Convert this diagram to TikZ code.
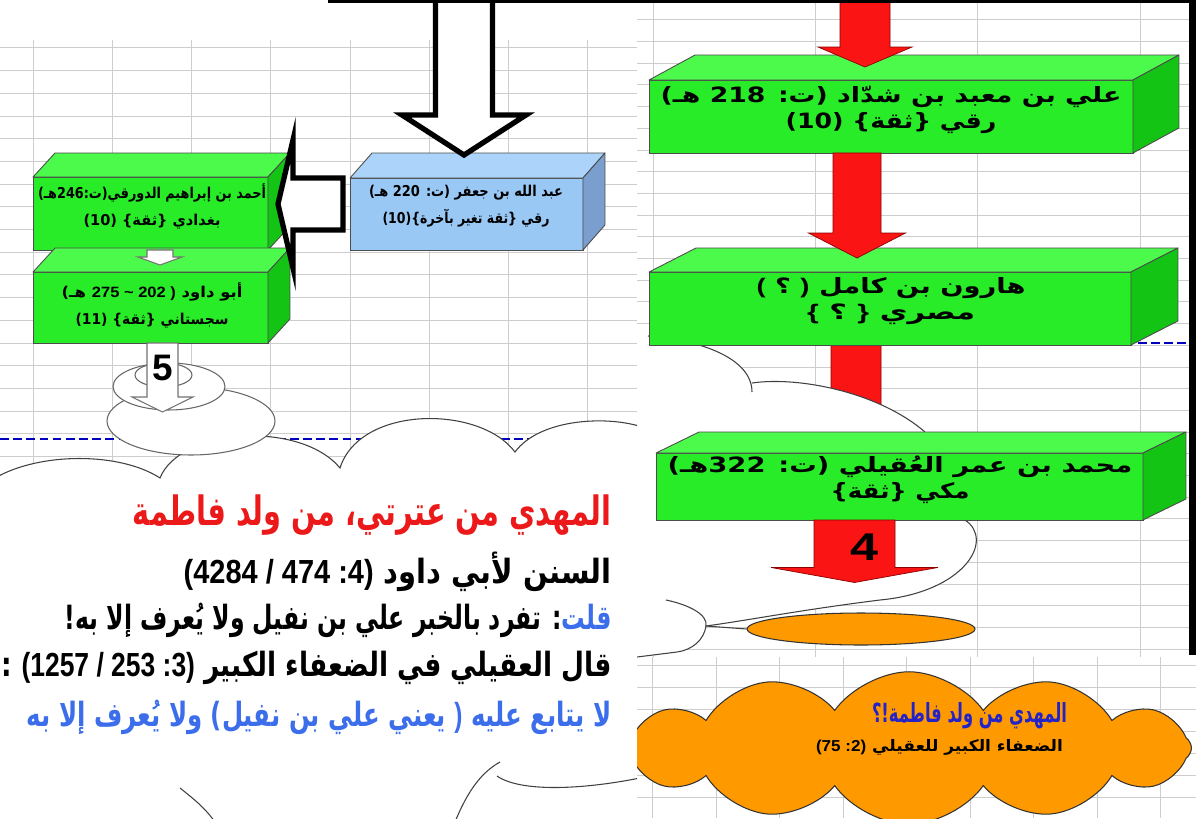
\documentclass[tikz,border=0pt]{standalone}
\usepackage{fontspec}
\usepackage{graphicx}
\setmainfont{Liberation Sans}
\newfontfamily\arabicfont[Script=Arabic]{DejaVu Sans}
\newfontfamily\numfont{Liberation Sans}
\TeXXeTstate=1
\usetikzlibrary{calc, shapes.geometric, shapes.symbols}

\definecolor{gridgray}{RGB}{205,205,205}
\definecolor{pagebreak}{RGB}{0,0,190}
\definecolor{boxgreen}{RGB}{40,236,40}
\definecolor{boxgreentop}{RGB}{75,250,75}
\definecolor{boxgreenside}{RGB}{20,196,20}
\definecolor{boxblue}{RGB}{153,200,245}
\definecolor{boxbluetop}{RGB}{172,212,250}
\definecolor{boxblueside}{RGB}{122,158,205}
\definecolor{arrowred}{RGB}{250,20,20}
\definecolor{cloudorange}{RGB}{255,153,0}
\definecolor{hredtext}{RGB}{235,25,25}
\definecolor{hbluetext}{RGB}{60,110,235}
\definecolor{hgreentext}{RGB}{30,220,30}
\definecolor{odarkblue}{RGB}{35,35,200}

\pgfdeclarelayer{grid}
\pgfdeclarelayer{under}
\pgfsetlayers{grid,under,main}

% literal braces and tilde, so they stay inside one word
\begingroup
\catcode`\<=1 \catcode`\>=2 \catcode`\{=12 \catcode`\}=12 \catcode`\~=12
\gdef\lbr<{>\gdef\rbr<}>\gdef\tld<~>
\endgroup

% one line of text, stretched to a given width
\newsavebox\linebox
\newcommand{\fitline}[2]{\sbox\linebox{#2}\resizebox{#1}{\ht\linebox}{\usebox\linebox}}
\newcommand{\nums}[1]{\beginL{\numfont #1}\endL}

% top and side faces of a box node
\newcommand{\cubesides}[5]{%
  \filldraw[edge, fill=#4] (#1.north west) -- ++(#2,-#3) -- ($(#1.north east)+(#2,-#3)$) -- (#1.north east) -- cycle;
  \filldraw[edge, fill=#5] (#1.north east) -- ++(#2,-#3) -- ($(#1.south east)+(#2,-#3)$) -- (#1.south east) -- cycle;}

% block arrows: style, start, tip, shaft half, head half, head length
\newcommand{\blockdown}[6]{%
  \path[#1] ($(#2)+(-#4,0)$) -- ($(#3)+(-#4,-#6)$) -- ($(#3)+(-#5,-#6)$) -- (#3)
    -- ($(#3)+(#5,-#6)$) -- ($(#3)+(#4,-#6)$) -- ($(#2)+(#4,0)$) -- cycle;}
\newcommand{\blockleft}[6]{%
  \path[#1] ($(#2)+(0,-#4)$) -- ($(#3)+(#6,-#4)$) -- ($(#3)+(#6,-#5)$) -- (#3)
    -- ($(#3)+(#6,#5)$) -- ($(#3)+(#6,#4)$) -- ($(#2)+(0,#4)$) -- cycle;}

\begin{document}
\begin{tikzpicture}[x=0.02cm, y=-0.02cm,
    gridline/.style={draw=gridgray, line width=0.5pt},
    breakline/.style={draw=pagebreak, line width=0.8pt, dash pattern=on 5pt off 2.5pt},
    cloudline/.style={draw=black!75, line width=0.6pt},
    face/.style={draw=black!70, line width=0.5pt, inner sep=0pt, outer sep=0pt},
    greenface/.style={face, fill=boxgreen},
    blueface/.style={face, fill=boxblue},
    edge/.style={draw=black!70, line width=0.5pt, line join=round},
    hollowarrow/.style={fill=white, draw=black, line width=3pt},
    thinarrow/.style={fill=white, draw=black!55, line width=0.6pt},
    redarrow/.style={fill=arrowred, draw=red!55!black, line width=0.4pt},
    bubble/.style={ellipse, draw=black!60, fill=white, line width=0.6pt, inner sep=0pt},
    boxtxt/.style={font=\arabicfont\bfseries\fontsize{12}{14.7}\selectfont, align=center, inner sep=0pt},
    leftboxtxt/.style={font=\arabicfont\bfseries\fontsize{8.5}{15.3}\selectfont, align=center, inner sep=0pt},
    bigtxt/.style={font=\arabicfont\bfseries\fontsize{19}{22}\selectfont, anchor=east, inner sep=0pt}]

  \useasboundingbox (0,0) rectangle (1196,818);

  % left column
  \node[bubble, minimum width=3.36cm, minimum height=1.36cm] (bubbig) at (191,421) {};
  \node[bubble, minimum width=2.24cm, minimum height=0.94cm] (bubmid) at (169,386.5) {};
  \node[bubble, minimum width=1.14cm, minimum height=0.48cm] (bubsmall) at (163.5,375) {};

  \node[blueface, minimum width=4.66cm, minimum height=1.44cm] (abdallah) at (466.5,214) {};
  \cubesides{abdallah}{22}{25}{boxbluetop}{boxblueside}
  \node[greenface, minimum width=4.7cm, minimum height=1.46cm] (ahmad) at (150.5,213.5) {};
  \cubesides{ahmad}{22}{24}{boxgreentop}{boxgreenside}
  \node[greenface, minimum width=4.7cm, minimum height=1.42cm] (abudawud) at (150.5,307.5) {};
  \cubesides{abudawud}{22}{24}{boxgreentop}{boxgreenside}

  \coordinate (s1top) at ($(ahmad.south)+(9.5,0)$);
  \coordinate (s1tip) at ($(s1top |- abudawud.north)+(0,-7)$);
  \blockdown{thinarrow}{s1top}{s1tip}{13}{22}{8}

  \coordinate (a5top) at ($(abudawud.south)+(12,0)$);
  \coordinate (a5tip) at ($(a5top |- bubbig.center)+(0,-9)$);
  \blockdown{thinarrow}{a5top}{a5tip}{15.5}{30.5}{15}
  \node[font=\numfont\bfseries\fontsize{21}{21}\selectfont, inner sep=0pt] (numfive) at ($(a5top)+(0,25)$) {5};

  \coordinate (lstart) at ($(abdallah.west)+(-7,-10)$);
  \coordinate (ltip) at ($(lstart -| ahmad.east)+(10,0)$);
  \blockleft{hollowarrow}{lstart}{ltip}{26}{64}{15}

  \coordinate (wtop) at (464,-8);
  \coordinate (wtip) at ($(wtop |- abdallah.north)+(0,-23)$);
  \blockdown{hollowarrow}{wtop}{wtip}{28.5}{62}{40}

  % right column
  \node[greenface, minimum width=9.68cm, minimum height=1.46cm] (ali) at (891,116.5) {};
  \cubesides{ali}{46}{25}{boxgreentop}{boxgreenside}
  \node[greenface, minimum width=9.64cm, minimum height=1.46cm] (harun) at (890,308.5) {};
  \cubesides{harun}{47}{24}{boxgreentop}{boxgreenside}
  \node[greenface, minimum width=9.74cm, minimum height=1.34cm] (uqayli) at (899.5,486.5) {};
  \cubesides{uqayli}{43}{21}{boxgreentop}{boxgreenside}

  \node[ellipse, draw=black!80, fill=cloudorange, line width=0.6pt, inner sep=0pt,
        minimum width=4.56cm, minimum height=0.64cm] (oval) at (861,629) {};

  \coordinate (r1top) at (865,-8);
  \coordinate (r1tip) at ($(r1top |- ali.north)+(0,-13)$);
  \blockdown{redarrow}{r1top}{r1tip}{25}{47}{20}
  \coordinate (r2top) at ($(ali.south)+(-34,0)$);
  \coordinate (r2tip) at ($(r2top |- harun.north)+(0,-14)$);
  \blockdown{redarrow}{r2top}{r2tip}{24}{48.5}{25}
  \coordinate (r3top) at ($(harun.south)+(-34,0)$);
  \coordinate (r3tip) at ($(r3top |- uqayli.north)+(0,10)$);
  \coordinate (r4top) at ($(uqayli.south)+(-45,0)$);
  \coordinate (r4tip) at ($(r4top |- oval.north)+(0,-30)$);
  \blockdown{redarrow}{r4top}{r4tip}{40.5}{83.5}{15}
  \node[font=\numfont\bfseries\fontsize{22}{22}\selectfont, inner sep=0pt] (numfour) at ($(r4top)+(10,27)$) {\scalebox{1.3}[1]{4}};

  \begin{scope}
    \clip (637,600) rectangle (1196,830);
    \node[cloud, cloud puffs=12, cloud puff arc=110, cloud ignores aspect, draw=black!80,
          fill=cloudorange, line width=0.6pt, inner sep=0pt,
          minimum width=11.3cm, minimum height=3.05cm] (ocloud) at (909,748) {};
  \end{scope}

  % box texts
  \node[boxtxt] (alitxt) at (891,110) {\fitline{9.22cm}{\beginR علي بن معبد بن شدّاد (ت: 218 هـ)\endR}\\ \fitline{4.22cm}{\beginR رقي \lbr ثقة\rbr\ (10)\endR}};
  \node[boxtxt] (haruntxt) at (891,301) {\fitline{5.38cm}{\beginR هارون بن كامل \nums{)} ؟ \nums{(}\endR}\\ \fitline{3.36cm}{\beginR مصري \nums{\rbr} ؟ \nums{\lbr}\endR}};
  \node[boxtxt] (uqaylitxt) at (900,480) {\fitline{9.3cm}{\beginR محمد بن عمر العُقيلي (ت: 322هـ)\endR}\\ \fitline{2.78cm}{\beginR مكي \lbr ثقة\rbr\endR}};
  \node[leftboxtxt] (abdallahtxt) at (466,206.5) {\fitline{3.88cm}{\beginR عبد الله بن جعفر (ت: 220 هـ)\endR}\\ \fitline{3.34cm}{\beginR رقي \lbr ثقة تغير بآخرة\rbr(10)\endR}};
  \node[leftboxtxt] (ahmadtxt) at (152,206.5) {\fitline{4.56cm}{\beginR أحمد بن إبراهيم الدورقي(ت:246هـ)\endR}\\ \fitline{2.74cm}{\beginR بغدادي \lbr ثقة\rbr\ (10)\endR}};
  \node[leftboxtxt] (abudawudtxt) at (152,305) {\fitline{3.62cm}{\beginR أبو داود \nums{275 \tld\ 202 )} هـ)\endR}\\ \fitline{3.06cm}{\beginR سجستاني \lbr ثقة\rbr\ (11)\endR}};

  % cloud texts
  \node[bigtxt, text=hredtext, font=\arabicfont\bfseries\fontsize{23}{25}\selectfont] (mahdi) at (612,515) {\fitline{9.58cm}{\beginR المهدي من عترتي، من ولد فاطمة\endR}};
  \node[bigtxt] (sunan) at (612,572) {\fitline{8.56cm}{\beginR السنن لأبي داود \nums{(4284 / 474 :4)}\endR}};
  \node[bigtxt] (qultu) at (612,620) {\fitline{10.94cm}{\beginR\color{hgreentext}قلت\color{hbluetext}: تفرد بالخبر علي بن نفيل ولا يُعرف إلا به!\endR}};
  \node[bigtxt] (uqaylisaid) at (612,668) {\fitline{12.2cm}{\beginR قال العقيلي في الضعفاء الكبير \nums{(1257 / 253 :3)} :\endR}};
  \node[bigtxt, text=hbluetext] (nofollow) at (612,717) {\fitline{11.7cm}{\beginR لا يتابع عليه \nums{)} يعني علي بن نفيل) ولا يُعرف إلا به\endR}};
  \node[font=\arabicfont\bfseries\fontsize{15}{17}\selectfont, text=odarkblue, inner sep=0pt] (otitle) at (969.5,716) {\fitline{3.9cm}{\beginR المهدي من ولد فاطمة!؟\endR}};
  \node[font=\arabicfont\bfseries\fontsize{9}{11}\selectfont, inner sep=0pt] (osource) at (939.5,747) {\fitline{4.94cm}{\beginR الضعفاء الكبير للعقيلي \nums{(75 :2)}\endR}};

  % frame of the screenshot
  \fill[black] (328,0) rectangle (1196,3);
  \fill[black] (1189,0) rectangle (1196,655);

  \begin{pgfonlayer}{grid}
    \fill[white] (0,0) rectangle (1196,818);
    \foreach \gx in {33,112,191,270,350,429,508,587}
      \draw[gridline] (\gx,40) -- (\gx,818);
    \foreach \k in {0,...,33}
      \draw[gridline] (0,{47.9+22.7*\k}) -- (637,{47.9+22.7*\k});
    \foreach \gx in {653,815,977,1140}
      \draw[gridline] (\gx,0) -- (\gx,657);
    \foreach \k in {0,...,29}
      \draw[gridline] (637,{19.8+21.7*\k}) -- (1189,{19.8+21.7*\k});
    \foreach \gx in {652,716,779,843,906,970,1033,1097,1160}
      \draw[gridline] (\gx,657) -- (\gx,818);
    \foreach \k in {0,...,7}
      \draw[gridline] (637,{665+22*\k}) -- (1196,{665+22*\k});
    \draw[breakline] (0,439) -- (637,439);
    \draw[breakline] (637,343) -- (1189,343);
  \end{pgfonlayer}

  \begin{pgfonlayer}{under}
    \blockdown{redarrow}{r3top}{r3tip}{25}{48}{25}
    % right part of the white cloud
    \coordinate (cloudjoin) at (706,626);
    \fill[white] (637,330) -- (648,336) .. controls (700,340) and (752,358) .. (752,392)
      -- (752,383) .. controls (800,376) and (880,393) .. (925,432) -- (990,480)
      -- (965,520) .. controls (995,540) and (965,592) .. (880,600)
      .. controls (800,610) and (750,620) .. (cloudjoin)
      .. controls (704,640) and (692,650) .. (677,652) -- (637,657) -- cycle;
    \draw[cloudline] (648,336) .. controls (700,340) and (752,358) .. (752,392);
    \draw[cloudline] (752,383) .. controls (800,376) and (880,393) .. (925,432);
    \draw[cloudline] (965,520) .. controls (995,540) and (965,592) .. (880,600)
      .. controls (800,610) and (750,620) .. (cloudjoin);
    \draw[cloudline] (666,600) .. controls (690,605) and (708,615) .. (cloudjoin)
      .. controls (704,640) and (692,650) .. (677,652) -- (637,657) -- (616,650);
    \draw[cloudline] (cloudjoin) -- (oval.west);
    % left part of the white cloud
    \begin{scope}
      \clip (0,0) rectangle (637,818);
      \fill[white] (-5,478) .. controls (40,452) and (120,452) .. (160,478)
        .. controls (180,428) and (300,420) .. (340,468)
        .. controls (360,405) and (480,405) .. (515,452)
        .. controls (540,418) and (610,415) .. (645,428) -- (645,825) -- (-5,825) -- cycle;
      \draw[cloudline] (-5,478) .. controls (40,452) and (120,452) .. (160,478)
        .. controls (180,428) and (300,420) .. (340,468)
        .. controls (360,405) and (480,405) .. (515,452)
        .. controls (540,418) and (610,415) .. (645,428);
      \draw[cloudline] (180,788) .. controls (195,800) and (205,808) .. (215,822);
      \draw[cloudline] (455,822) .. controls (468,790) and (482,772) .. (500,762);
      \draw[cloudline] (497,776) .. controls (520,792) and (580,790) .. (640,778);
    \end{scope}
  \end{pgfonlayer}
\end{tikzpicture}
\end{document}
